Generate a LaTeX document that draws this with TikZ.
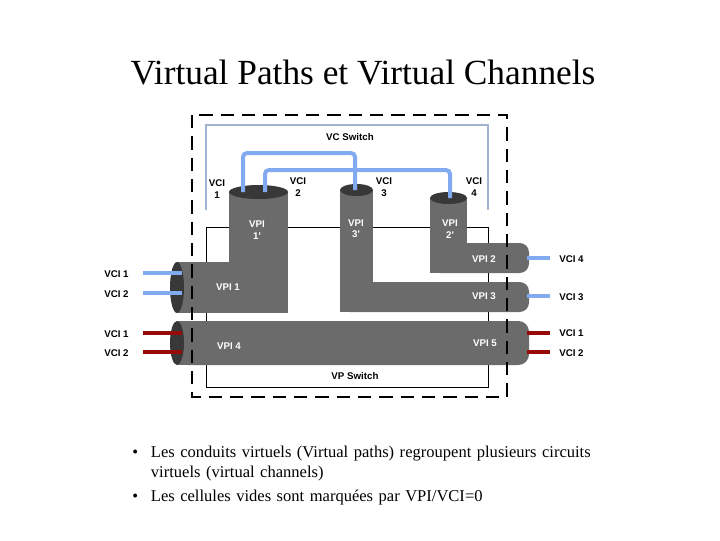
\documentclass[tikz,border=0pt]{standalone}
\usepackage{fontspec}
\setmainfont{Liberation Serif}
\newfontfamily\arialf{Liberation Sans}
\begin{document}
\begin{tikzpicture}[x=0.75pt,y=-0.75pt,
  pipe/.style={fill=black!58,draw=none},
  endc/.style={fill=black!78,draw=none},
  bwin/.style={draw={rgb,255:red,130;green,170;blue,240},line width=3pt},
  rw/.style={draw={rgb,255:red,150;green,10;blue,10},line width=3pt},
  lab/.style={font=\arialf\bfseries\fontsize{7.3}{8.5}\selectfont,align=center,inner sep=0pt},
  wlab/.style={lab,text=white},
  dashbox/.style={draw,dash pattern=on 10pt off 6pt,line width=0.8pt}]
\useasboundingbox (0,0) rectangle (720,540);
\node[font=\fontsize{26.5}{30}\selectfont] (title) at (363,73) {Virtual Paths et Virtual Channels};
% VC switch box
\draw[draw={rgb,255:red,160;green,180;blue,210},line width=0.8pt] (206,210) -- (206,125) -- (488,125) -- (488,210);
\node[lab] (vcs) at (350,137) {VC Switch};
% VP switch box
\draw[line width=0.6pt] (206,227) rectangle (488,387);
\node[lab] (vps) at (355,376) {VP Switch};
% pipes
\fill[pipe] (229,192) rectangle (288,313);
\fill[pipe] (177,262) rectangle (288,313);
\fill[endc] (177,287.5) ellipse[x radius=7,y radius=25.5];
\fill[endc] (258.5,192) ellipse[x radius=29.5,y radius=7];
\fill[pipe] (340,190) rectangle (373,312);
\fill[pipe,rounded corners=7pt] (340,282) rectangle (529,312);
\fill[pipe] (340,282) rectangle (500,312);
\fill[endc] (356.5,190) ellipse[x radius=16.5,y radius=6];
\fill[pipe] (430,198) rectangle (467,273);
\fill[pipe,rounded corners=7pt] (430,243) rectangle (529,273);
\fill[pipe] (430,243) rectangle (500,273);
\fill[endc] (448.5,198) ellipse[x radius=18.5,y radius=6];
\fill[pipe,rounded corners=8pt] (177,321) rectangle (529,365);
\fill[pipe] (177,321) rectangle (500,365);
\fill[endc] (177,343) ellipse[x radius=7,y radius=22];
% wires
\coordinate (w1a) at (243,192); \coordinate (w1b) at (243,153);
\coordinate (w1c) at (355,153); \coordinate (w1d) at (355,190);
\draw[bwin,rounded corners=3pt] (w1a) -- (w1b) -- (w1c) -- (w1d);
\coordinate (w2a) at (265,192); \coordinate (w2b) at (265,170);
\coordinate (w2c) at (450,170); \coordinate (w2d) at (450,198);
\draw[bwin,rounded corners=3pt] (w2a) -- (w2b) -- (w2c) -- (w2d);
\draw[bwin] (143,273) -- (182,273);
\draw[bwin] (143,293) -- (182,293);
\draw[rw] (143,333) -- (182,333);
\draw[rw] (143,352) -- (182,352);
\draw[bwin] (527,258) -- (550,258);
\draw[bwin] (527,296) -- (550,296);
\draw[rw] (527,333) -- (550,333);
\draw[rw] (527,352) -- (550,352);
% outer dashed box
\draw[dashbox] (192,115) rectangle (507,397);
% labels
\node[lab] (l1) at (217,189) {VCI\\1};
\node[lab] (l2) at (298,187) {VCI\\2};
\node[lab] (l3) at (384,187) {VCI\\3};
\node[lab] (l4) at (474,187) {VCI\\4};
\node[wlab] (p1p) at (257,230) {VPI\\1'};
\node[wlab] (p3p) at (356,229) {VPI\\3'};
\node[wlab] (p2p) at (450,229) {VPI\\2'};
\node[wlab] (p2) at (484,259) {VPI 2};
\node[wlab] (p1) at (228,287) {VPI 1};
\node[wlab] (p3) at (484,296) {VPI 3};
\node[wlab] (p4) at (229,346) {VPI 4};
\node[wlab] (p5) at (485,343) {VPI 5};
\node[lab,anchor=west] (a1) at (104,274) {VCI 1};
\node[lab,anchor=west] (a2) at (104,294) {VCI 2};
\node[lab,anchor=west] (a3) at (104,334) {VCI 1};
\node[lab,anchor=west] (a4) at (104,353) {VCI 2};
\node[lab,anchor=west] (b1) at (559,259) {VCI 4};
\node[lab,anchor=west] (b2) at (559,297) {VCI 3};
\node[lab,anchor=west] (b3) at (559,333) {VCI 1};
\node[lab,anchor=west] (b4) at (559,353) {VCI 2};
% bullets
\node[anchor=north west,align=left,font=\fontsize{12.4}{14.5}\selectfont,text width=360pt,inner sep=0pt] (bul) at (132,446)
{\makebox[14pt][l]{•}Les conduits virtuels (Virtual paths) regroupent plusieurs circuits\\
\hspace*{14pt}virtuels (virtual channels)\\[4pt]
\makebox[14pt][l]{•}Les cellules vides sont marquées par VPI/VCI=0};
\end{tikzpicture}
\end{document}
